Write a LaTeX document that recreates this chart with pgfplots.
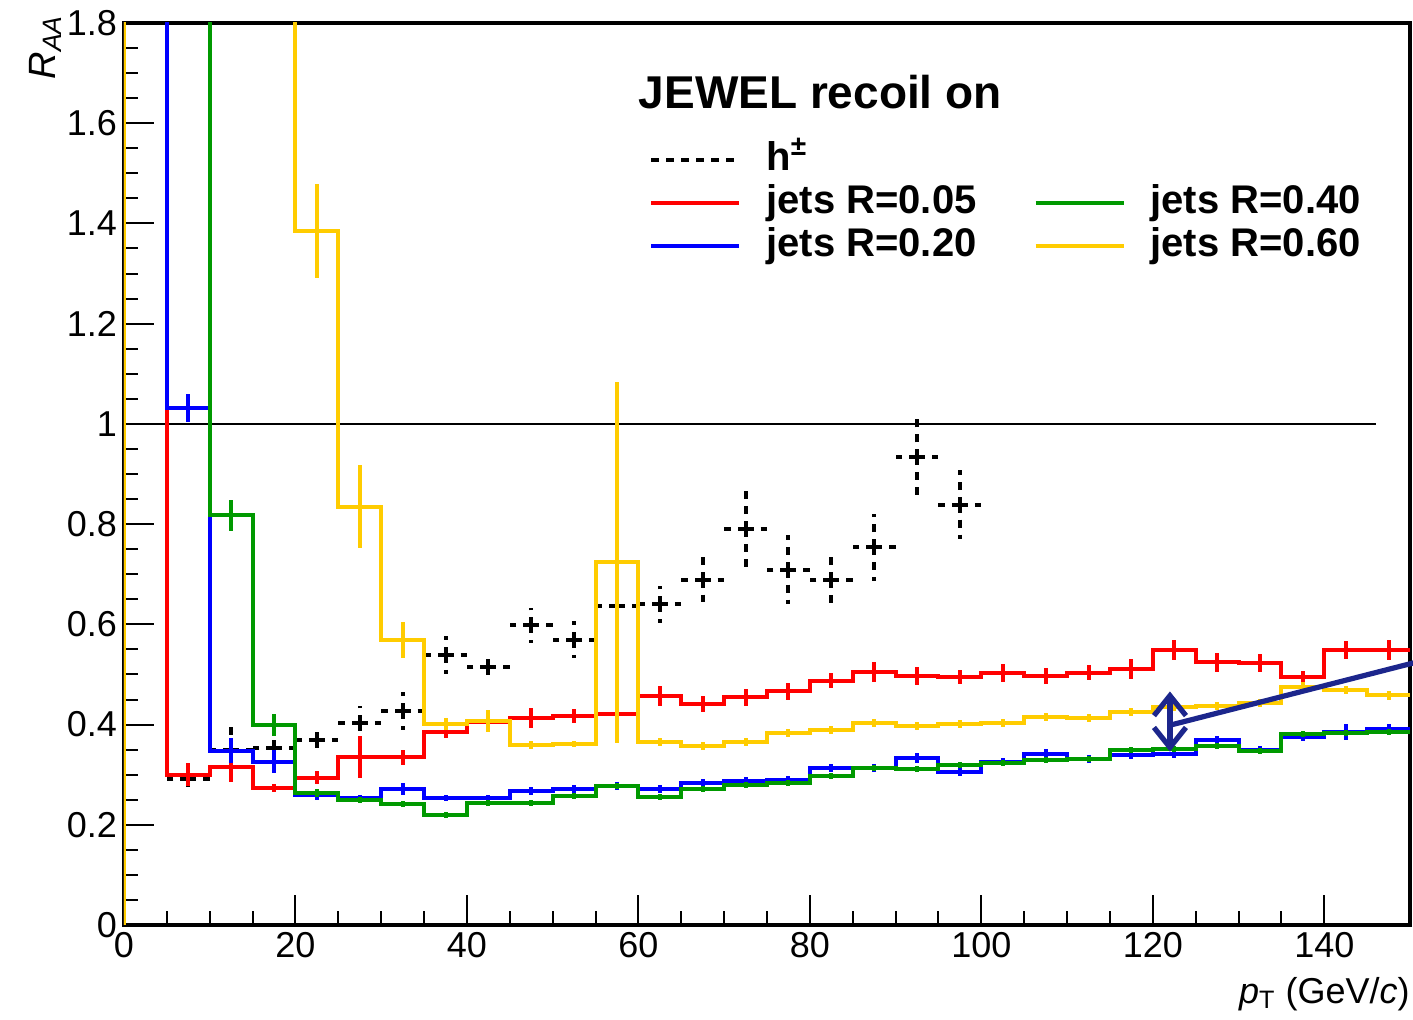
\documentclass[border=0pt]{standalone}
\usepackage{fontspec}
\setmainfont{Liberation Sans}
\usepackage{pgfplots}
\pgfplotsset{compat=1.18}
\usetikzlibrary{arrows.meta}
\definecolor{rgold}{RGB}{255,204,0}
\definecolor{rgreen}{RGB}{0,153,0}
\definecolor{rnavy}{RGB}{28,38,140}
\pgfplotsset{
  errs/.style={draw=none, mark=none, forget plot,
    error bars/.cd, y dir=both, y explicit, error mark=none,
    error bar style={draw=#1, line width=2pt, solid}},
}
\begin{document}
\begin{tikzpicture}
\useasboundingbox (-62pt,-47pt) rectangle (644.5pt,462.5pt);
\begin{axis}[
  at={(0,0)}, anchor=south west,
  scale only axis, width=643pt, height=451pt,
  xmin=0, xmax=150, ymin=0, ymax=1.8,
  xtick={0,20,40,60,80,100,120,140},
  ytick={0,0.2,0.4,0.6,0.8,1,1.2,1.4,1.6,1.8},
  minor x tick num=3, minor y tick num=3,
  tick align=inside, xtick pos=bottom, ytick pos=left,
  major tick length=15pt, minor tick length=7pt,
  tick style={black, line width=1pt},
  axis line style={line width=1.6pt},
  clip mode=individual,
  /pgf/number format/assume math mode=true,
  tick label style={font=\fontsize{18}{18}\selectfont},
  xlabel={\textit{p}\textsubscript{T} (GeV/\textit{c})},
  xlabel style={at={(rel axis cs:1,0)}, anchor=north east, yshift=-26pt, inner sep=0pt, font=\fontsize{18}{18}\selectfont},
  ylabel={\textit{R}\textsubscript{\textit{AA}}},
  ylabel style={at={(rel axis cs:0,1)}, anchor=south east, xshift=4pt, yshift=31pt, inner sep=0pt, font=\fontsize{19}{19}\selectfont},
  legend columns=2,
  legend cell align=left,
  legend style={at={(rel axis cs:0.4083,0.875)}, anchor=north west, draw=none, fill=none,
    font=\bfseries\fontsize{20}{20}\selectfont, inner sep=0pt, row sep=-2pt,
    nodes={text height=15pt, text depth=4.5pt},
    /tikz/every odd column/.append style={column sep=10.5pt},
    /tikz/every even column/.append style={column sep=26.5pt}},
  legend image code/.code={\draw[#1] (0pt,0pt) -- (44pt,0pt);},
]
% reference line at 1
\addplot[black, line width=1pt, forget plot] coordinates {(0,1) (146,1)};

% h+- (charged hadrons)
\addplot[draw=none, mark=none, forget plot,
  error bars/.cd, x dir=both, x explicit, y dir=both, y explicit, error mark=none,
  error bar style={draw=black, line width=2pt, dash pattern=on 4pt off 3.5pt}]
coordinates {
(7.5,0.291) +- (2.5,0.023)
(12.5,0.350) +- (2.5,0.045)
(17.5,0.354) +- (2.5,0.020)
(22.5,0.370) +- (2.5,0.025)
(27.5,0.403) +- (2.5,0.035)
(32.5,0.427) +- (2.5,0.038)
(37.5,0.539) +- (2.5,0.038)
(42.5,0.515) +- (2.5,0.023)
(47.5,0.598) +- (2.5,0.035)
(52.5,0.569) +- (2.5,0.037)
(57.5,0.636) +- (2.5,0.043)
(62.5,0.640) +- (2.5,0.037)
(67.5,0.689) +- (2.5,0.045)
(72.5,0.790) +- (2.5,0.087)
(77.5,0.709) +- (2.5,0.069)
(82.5,0.688) +- (2.5,0.053)
(87.5,0.754) +- (2.5,0.067)
(92.5,0.933) +- (2.5,0.085)
(97.5,0.839) +- (2.5,0.068)
};

% jets R=0.05 (red)
\addplot[red, line width=2pt, const plot, forget plot] coordinates {
(0,0)(0,5)(5,0.300)(10,0.316)(15,0.273)(20,0.294)(25,0.335)(30,0.335)(35,0.386)(40,0.406)(45,0.413)
(50,0.418)(55,0.421)(60,0.457)(65,0.441)(70,0.454)(75,0.466)(80,0.487)(85,0.505)(90,0.496)(95,0.494)
(100,0.503)(105,0.496)(110,0.503)(115,0.511)(120,0.548)(125,0.524)(130,0.522)(135,0.494)(140,0.549)(145,0.548)(150,0.548)};
\addplot[errs=red]
coordinates {
(7.5,0.300) +- (0,0.023) (12.5,0.316) +- (0,0.031) (17.5,0.273) +- (0,0.008) (22.5,0.294) +- (0,0.013)
(27.5,0.335) +- (0,0.042) (32.5,0.335) +- (0,0.015) (37.5,0.386) +- (0,0.012) (42.5,0.406) +- (0,0.012)
(47.5,0.413) +- (0,0.020) (52.5,0.418) +- (0,0.014) (57.5,0.421) +- (0,0.015) (62.5,0.457) +- (0,0.020)
(67.5,0.441) +- (0,0.015) (72.5,0.454) +- (0,0.016) (77.5,0.466) +- (0,0.016) (82.5,0.487) +- (0,0.015)
(87.5,0.505) +- (0,0.020) (92.5,0.496) +- (0,0.018) (97.5,0.494) +- (0,0.014) (102.5,0.503) +- (0,0.018)
(107.5,0.496) +- (0,0.016) (112.5,0.503) +- (0,0.015) (117.5,0.511) +- (0,0.020) (122.5,0.548) +- (0,0.020)
(127.5,0.524) +- (0,0.019) (132.5,0.522) +- (0,0.018) (137.5,0.494) +- (0,0.012) (142.5,0.549) +- (0,0.018)
(147.5,0.548) +- (0,0.020)};

% jets R=0.20 (blue)
\addplot[blue, line width=2pt, const plot, forget plot] coordinates {
(0,0)(0,5)(5,1.031)(10,0.348)(15,0.326)(20,0.260)(25,0.253)(30,0.272)(35,0.253)(40,0.253)(45,0.268)
(50,0.271)(55,0.278)(60,0.271)(65,0.283)(70,0.288)(75,0.290)(80,0.313)(85,0.314)(90,0.334)(95,0.306)
(100,0.326)(105,0.341)(110,0.331)(115,0.340)(120,0.342)(125,0.370)(130,0.350)(135,0.376)(140,0.385)(145,0.392)(150,0.392)};
\addplot[errs=blue]
coordinates {
(7.5,1.031) +- (0,0.028) (12.5,0.348) +- (0,0.025) (17.5,0.326) +- (0,0.023) (22.5,0.260) +- (0,0.010)
(27.5,0.253) +- (0,0.006) (32.5,0.272) +- (0,0.012) (37.5,0.253) +- (0,0.006) (42.5,0.253) +- (0,0.006)
(47.5,0.268) +- (0,0.008) (52.5,0.271) +- (0,0.008) (57.5,0.278) +- (0,0.008) (62.5,0.271) +- (0,0.008)
(67.5,0.283) +- (0,0.008) (72.5,0.288) +- (0,0.008) (77.5,0.290) +- (0,0.008) (82.5,0.313) +- (0,0.008)
(87.5,0.314) +- (0,0.008) (92.5,0.334) +- (0,0.010) (97.5,0.306) +- (0,0.008) (102.5,0.326) +- (0,0.008)
(107.5,0.341) +- (0,0.010) (112.5,0.331) +- (0,0.008) (117.5,0.340) +- (0,0.008) (122.5,0.342) +- (0,0.008)
(127.5,0.370) +- (0,0.008) (132.5,0.350) +- (0,0.008) (137.5,0.376) +- (0,0.008) (142.5,0.385) +- (0,0.016)
(147.5,0.392) +- (0,0.010)};

% jets R=0.40 (green)
\addplot[rgreen, line width=2pt, const plot, forget plot] coordinates {
(0,0)(0,5)(5,5)(10,0.818)(15,0.400)(20,0.263)(25,0.250)(30,0.241)(35,0.220)(40,0.243)(45,0.243)
(50,0.258)(55,0.278)(60,0.256)(65,0.271)(70,0.280)(75,0.284)(80,0.298)(85,0.313)(90,0.312)(95,0.320)
(100,0.323)(105,0.330)(110,0.331)(115,0.350)(120,0.351)(125,0.358)(130,0.348)(135,0.381)(140,0.384)(145,0.386)(150,0.386)};
\addplot[errs=rgreen]
coordinates {
(12.5,0.818) +- (0,0.031) (17.5,0.400) +- (0,0.022) (22.5,0.263) +- (0,0.008)
(27.5,0.250) +- (0,0.006) (32.5,0.241) +- (0,0.006) (37.5,0.220) +- (0,0.006) (42.5,0.243) +- (0,0.006)
(47.5,0.243) +- (0,0.006) (52.5,0.258) +- (0,0.006) (57.5,0.278) +- (0,0.006) (62.5,0.256) +- (0,0.006)
(67.5,0.271) +- (0,0.006) (72.5,0.280) +- (0,0.006) (77.5,0.284) +- (0,0.006) (82.5,0.298) +- (0,0.006)
(87.5,0.313) +- (0,0.006) (92.5,0.312) +- (0,0.006) (97.5,0.320) +- (0,0.006) (102.5,0.323) +- (0,0.006)
(107.5,0.330) +- (0,0.006) (112.5,0.331) +- (0,0.006) (117.5,0.350) +- (0,0.006) (122.5,0.351) +- (0,0.006)
(127.5,0.358) +- (0,0.006) (132.5,0.348) +- (0,0.006) (137.5,0.381) +- (0,0.006) (142.5,0.384) +- (0,0.006)
(147.5,0.386) +- (0,0.006)};

% jets R=0.60 (gold)
\addplot[rgold, line width=2pt, const plot, forget plot] coordinates {
(0,0)(0,5)(5,5)(10,5)(15,5)(20,1.385)(25,0.835)(30,0.568)(35,0.401)(40,0.407)(45,0.360)
(50,0.361)(55,0.724)(60,0.365)(65,0.358)(70,0.366)(75,0.384)(80,0.390)(85,0.403)(90,0.397)(95,0.401)
(100,0.403)(105,0.416)(110,0.413)(115,0.426)(120,0.435)(125,0.437)(130,0.444)(135,0.475)(140,0.468)(145,0.458)(150,0.458)};
\addplot[errs=rgold]
coordinates {
(22.5,1.385) +- (0,0.093)
(27.5,0.835) +- (0,0.083) (32.5,0.568) +- (0,0.036) (37.5,0.401) +- (0,0.012) (42.5,0.407) +- (0,0.022)
(47.5,0.360) +- (0,0.008) (52.5,0.361) +- (0,0.006) (57.5,0.724) +- (0,0.360) (62.5,0.365) +- (0,0.008)
(67.5,0.358) +- (0,0.008) (72.5,0.366) +- (0,0.008) (77.5,0.384) +- (0,0.008) (82.5,0.390) +- (0,0.008)
(87.5,0.403) +- (0,0.008) (92.5,0.397) +- (0,0.008) (97.5,0.401) +- (0,0.008) (102.5,0.403) +- (0,0.008)
(107.5,0.416) +- (0,0.008) (112.5,0.413) +- (0,0.008) (117.5,0.426) +- (0,0.008) (122.5,0.435) +- (0,0.008)
(127.5,0.437) +- (0,0.008) (132.5,0.444) +- (0,0.008) (137.5,0.475) +- (0,0.010) (142.5,0.468) +- (0,0.008)
(147.5,0.458) +- (0,0.008)};

% legend
\addlegendimage{black, line width=2pt, dash pattern=on 4pt off 3.5pt}
\addlegendentry{h\textsuperscript{\textpm}}
\addlegendimage{empty legend}
\addlegendentry{}
\addlegendimage{red, line width=2pt}
\addlegendentry{jets R=0.05}
\addlegendimage{rgreen, line width=2pt}
\addlegendentry{jets R=0.40}
\addlegendimage{blue, line width=2pt}
\addlegendentry{jets R=0.20}
\addlegendimage{rgold, line width=2pt}
\addlegendentry{jets R=0.60}

\node[anchor=base west, inner sep=0pt, font=\bfseries\fontsize{23}{23}\selectfont] at (axis cs:60,1.630) {JEWEL recoil on};

% annotation
\draw[rnavy, line width=2.6pt, {Straight Barb[length=10pt,width=16pt]}-{Straight Barb[length=10pt,width=16pt]}] (axis cs:122,0.346) -- (axis cs:122,0.466);
\draw[rnavy, line width=2.6pt] (axis cs:122.3,0.40) -- (axis cs:150.4,0.523);
\end{axis}
\end{tikzpicture}
\end{document}
